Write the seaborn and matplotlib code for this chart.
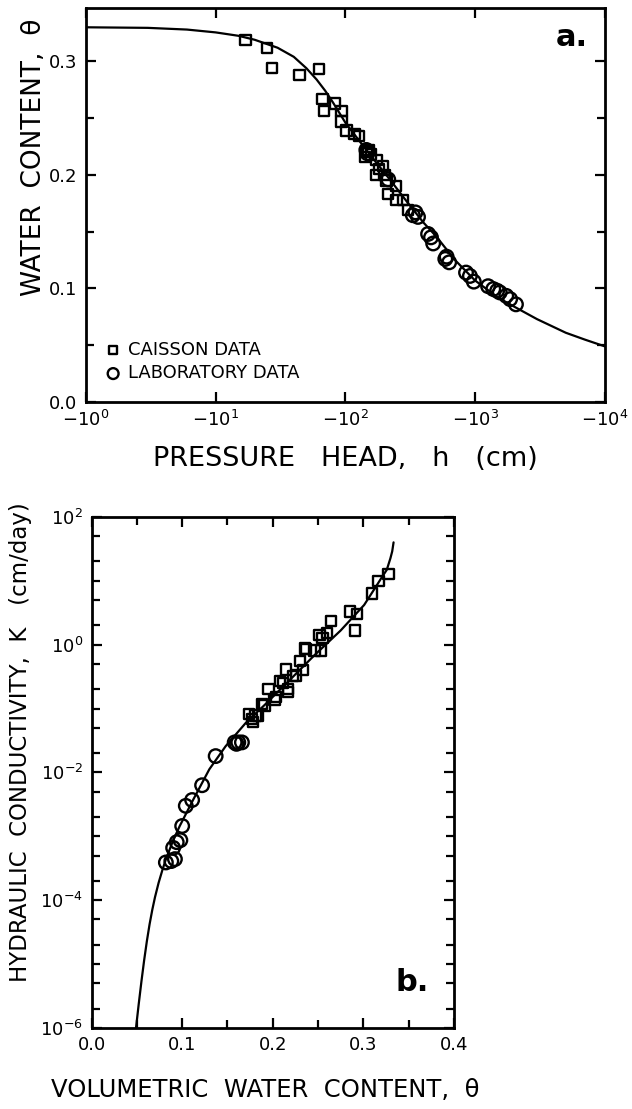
import numpy as np
import pandas as pd
import matplotlib
matplotlib.use("Agg")
import matplotlib.pyplot as plt
import seaborn as sns
from matplotlib.ticker import FixedLocator, NullLocator, FixedFormatter, NullFormatter

# ---------------- data: panel a (water retention) ----------------
# pressure head h (cm, negative) and water content theta
caisson_h = [-17, -24.8, -27.2, -44.2, -62.4, -66.7, -68.2, -83, -93.3, -93.3,
             -102, -117.5, -127.6, -145.5, -141, -151, -158, -174, -194, -174,
             -182, -200, -208, -245, -214, -248, -279, -305]
caisson_theta = [0.319, 0.312, 0.294, 0.288, 0.293, 0.267, 0.256, 0.263, 0.256, 0.247,
                 0.239, 0.236, 0.234, 0.220, 0.216, 0.222, 0.218, 0.213, 0.208, 0.200,
                 0.205, 0.200, 0.195, 0.190, 0.183, 0.178, 0.178, 0.169]
lab_h = [-145, -148, -214, -331, -347, -363, -434, -457, -475, -589, -603, -631,
         -851, -912, -977, -1259, -1380, -1479, -1549, -1738, -1862, -2065]
lab_theta = [0.222, 0.219, 0.196, 0.1645, 0.167, 0.163, 0.148, 0.145, 0.1396, 0.126, 0.128, 0.123,
             0.114, 0.111, 0.106, 0.102, 0.0995, 0.098, 0.0965, 0.0935, 0.0906, 0.086]
curve_a_h = [-1, -3, -6, -10, -15, -20, -30, -40, -50, -60, -70, -80, -100, -130,
             -170, -220, -300, -400, -500, -700, -1000, -1500, -2000, -3000, -5000,
             -7000, -10000]
curve_a_theta = [0.330, 0.3295, 0.328, 0.3255, 0.3225, 0.319, 0.312, 0.304, 0.294, 0.284,
                 0.274, 0.264, 0.246, 0.229, 0.212, 0.196, 0.176, 0.158, 0.146, 0.125,
                 0.107, 0.092, 0.084, 0.073, 0.061, 0.055, 0.049]

# ---------------- data: panel b (hydraulic conductivity) ----------------
lab_b_theta = [0.082, 0.088, 0.092, 0.090, 0.094, 0.098, 0.100, 0.104, 0.111, 0.122,
               0.137, 0.158, 0.160, 0.162, 0.166]
lab_b_K = [3.9e-4, 4.1e-4, 4.4e-4, 6.6e-4, 8.1e-4, 8.7e-4, 1.45e-3, 3.0e-3, 3.7e-3, 6.3e-3,
           1.8e-2, 2.95e-2, 2.8e-2, 2.95e-2, 2.95e-2]
caisson_b_theta = [0.174, 0.1775, 0.181, 0.184, 0.178, 0.188, 0.191, 0.1955, 0.202, 0.204,
                   0.208, 0.211, 0.215, 0.217, 0.217, 0.2227, 0.226, 0.230, 0.2336, 0.2354,
                   0.237, 0.246, 0.2535, 0.2517, 0.255, 0.260, 0.2644, 0.2855, 0.293, 0.291,
                   0.310, 0.317, 0.328]
caisson_b_K = [0.083, 0.068, 0.078, 0.078, 0.062, 0.117, 0.112, 0.20, 0.135, 0.15,
               0.27, 0.25, 0.41, 0.18, 0.20, 0.32, 0.33, 0.55, 0.40, 0.87,
               0.85, 0.81, 0.81, 1.41, 1.26, 1.51, 2.34, 3.3, 3.0, 1.66,
               6.3, 9.8, 12.6]
curve_b_theta = [0.049, 0.052, 0.055, 0.058, 0.061, 0.064, 0.067, 0.070, 0.074, 0.078,
                 0.082, 0.090, 0.0974, 0.112, 0.130, 0.148, 0.170, 0.192, 0.221, 0.246,
                 0.275, 0.301, 0.315, 0.320, 0.326, 0.330, 0.332, 0.3335]
curve_b_K = [1.0e-6, 2.37e-6, 5.37e-6, 1.15e-5, 2.29e-5, 4.21e-5, 7.1e-5, 1.12e-4, 1.88e-4, 2.92e-4,
             4.37e-4, 8.6e-4, 1.46e-3, 3.7e-3, 1.12e-2, 2.57e-2, 5.9e-2, 0.117, 0.30, 0.68,
             1.66, 4.17, 8.5, 11.0, 14.8, 22.4, 28.8, 39.8]

xticks_a = [1, 10, 100, 1000, 10000]
xticklabels_a = [r'$-10^{0}$', r'$-10^{1}$', r'$-10^{2}$', r'$-10^{3}$', r'$-10^{4}$']
yticks_a = [0.0, 0.1, 0.2, 0.3]
yticklabels_a = ['0.0', '0.1', '0.2', '0.3']
xticks_b = [0.0, 0.1, 0.2, 0.3, 0.4]
xticklabels_b = ['0.0', '0.1', '0.2', '0.3', '0.4']
yticks_b = [1e-6, 1e-4, 1e-2, 1e0, 1e2]
yticklabels_b = [r'$10^{-6}$', r'$10^{-4}$', r'$10^{-2}$', r'$10^{0}$', r'$10^{2}$']

# ---------------- style ----------------
sns.set_style("ticks")
plt.rcParams['font.family'] = ['DejaVu Sans']
plt.rcParams['mathtext.fontset'] = 'dejavusans'
plt.rcParams['text.color'] = 'black'
plt.rcParams['axes.labelcolor'] = 'black'
plt.rcParams['xtick.color'] = 'black'
plt.rcParams['ytick.color'] = 'black'

fig = plt.figure(figsize=(6.32, 11.09), dpi=100)
ax1 = fig.add_axes([0.136, 0.6375, 0.821, 0.3553])
ax2 = fig.add_axes([0.145, 0.073, 0.573, 0.461])

dfa_c = pd.DataFrame({'h': np.abs(caisson_h), 'theta': caisson_theta})
dfa_l = pd.DataFrame({'h': np.abs(lab_h), 'theta': lab_theta})
dfa_curve = pd.DataFrame({'h': np.abs(curve_a_h), 'theta': curve_a_theta})

sns.lineplot(data=dfa_curve, x='h', y='theta', sort=False, estimator=None,
             color='black', linewidth=1.6, ax=ax1, legend=False)
sns.scatterplot(data=dfa_c, x='h', y='theta', marker='s', s=55, facecolor='none',
                edgecolor='black', linewidth=1.7, ax=ax1, label='CAISSON DATA', zorder=3)
sns.scatterplot(data=dfa_l, x='h', y='theta', marker='o', s=95, facecolor='none',
                edgecolor='black', linewidth=1.7, ax=ax1, label='LABORATORY DATA', zorder=3)

ax1.set_xscale('log')
ax1.set_xlim(1, 10000)
ax1.set_ylim(0, 0.347)
ax1.xaxis.set_major_locator(FixedLocator(xticks_a))
ax1.xaxis.set_major_formatter(FixedFormatter(xticklabels_a))
ax1.xaxis.set_minor_locator(NullLocator())
ax1.yaxis.set_major_locator(FixedLocator(yticks_a))
ax1.yaxis.set_major_formatter(FixedFormatter(yticklabels_a))
ax1.yaxis.set_minor_locator(FixedLocator([0.05, 0.15, 0.25]))
ax1.yaxis.set_minor_formatter(NullFormatter())

leg = ax1.legend(loc='lower left', bbox_to_anchor=(0.035, 0.05), frameon=False,
                 fontsize=13, handletextpad=0.35, labelspacing=0.3, markerscale=0.8,
                 borderpad=0, borderaxespad=0, handlelength=1.0, labelcolor='black')

ax1.set_xlabel('PRESSURE   HEAD,   h   (cm)', fontsize=19.5)
ax1.xaxis.set_label_coords(0.5, -0.112)
ax1.set_ylabel('WATER  CONTENT,  θ', fontsize=19)
ax1.yaxis.set_label_coords(-0.075, 0.62)
ax1.text(0.968, 0.925, 'a.', transform=ax1.transAxes, fontsize=22, fontweight='bold',
         ha='right', va='center', color='black')

dfb_l = pd.DataFrame({'theta': lab_b_theta, 'K': lab_b_K})
dfb_c = pd.DataFrame({'theta': caisson_b_theta, 'K': caisson_b_K})
dfb_curve = pd.DataFrame({'theta': curve_b_theta, 'K': curve_b_K})

sns.lineplot(data=dfb_curve, x='theta', y='K', sort=False, estimator=None,
             color='black', linewidth=1.6, ax=ax2, legend=False)
sns.scatterplot(data=dfb_c, x='theta', y='K', marker='s', s=55, facecolor='none',
                edgecolor='black', linewidth=1.7, ax=ax2, zorder=3)
sns.scatterplot(data=dfb_l, x='theta', y='K', marker='o', s=95, facecolor='none',
                edgecolor='black', linewidth=1.7, ax=ax2, zorder=3)

ax2.set_yscale('log')
ax2.set_xlim(0, 0.4)
ax2.set_ylim(1e-6, 1e2)
ax2.xaxis.set_major_locator(FixedLocator(xticks_b))
ax2.xaxis.set_major_formatter(FixedFormatter(xticklabels_b))
ax2.xaxis.set_minor_locator(FixedLocator([0.05, 0.15, 0.25, 0.35]))
ax2.xaxis.set_minor_formatter(NullFormatter())
ax2.yaxis.set_major_locator(FixedLocator(yticks_b))
ax2.yaxis.set_major_formatter(FixedFormatter(yticklabels_b))
minor_b = []
for e in range(-6, 2):
    for m in (2, 5, 10):
        v = m * 10.0 ** e
        if v < 1e2 and not (m == 10 and (e + 1) % 2 == 0):
            minor_b.append(v)
ax2.yaxis.set_minor_locator(FixedLocator(minor_b))
ax2.yaxis.set_minor_formatter(NullFormatter())

ax2.set_xlabel('VOLUMETRIC  WATER  CONTENT,  θ', fontsize=17.5)
ax2.xaxis.set_label_coords(0.48, -0.098)
ax2.set_ylabel('HYDRAULIC  CONDUCTIVITY,  K   (cm/day)', fontsize=16.5)
ax2.yaxis.set_label_coords(-0.165, 0.56)
ax2.text(0.84, 0.09, 'b.', transform=ax2.transAxes, fontsize=22, fontweight='bold',
         ha='left', va='center', color='black')

for ax in (ax1, ax2):
    for sp in ax.spines.values():
        sp.set_linewidth(2.0)
        sp.set_color('black')
        sp.set_visible(True)
    ax.tick_params(which='both', direction='in', top=True, right=True,
                   width=1.6, color='black', labelsize=13, labelcolor='black')
    ax.tick_params(which='major', length=7, pad=6)
    ax.tick_params(which='minor', length=5.5)
    ax.set_facecolor('white')
    ax.xaxis.label.set_color('black')
    ax.yaxis.label.set_color('black')

fig.savefig('out.png', dpi=100, facecolor='white')
